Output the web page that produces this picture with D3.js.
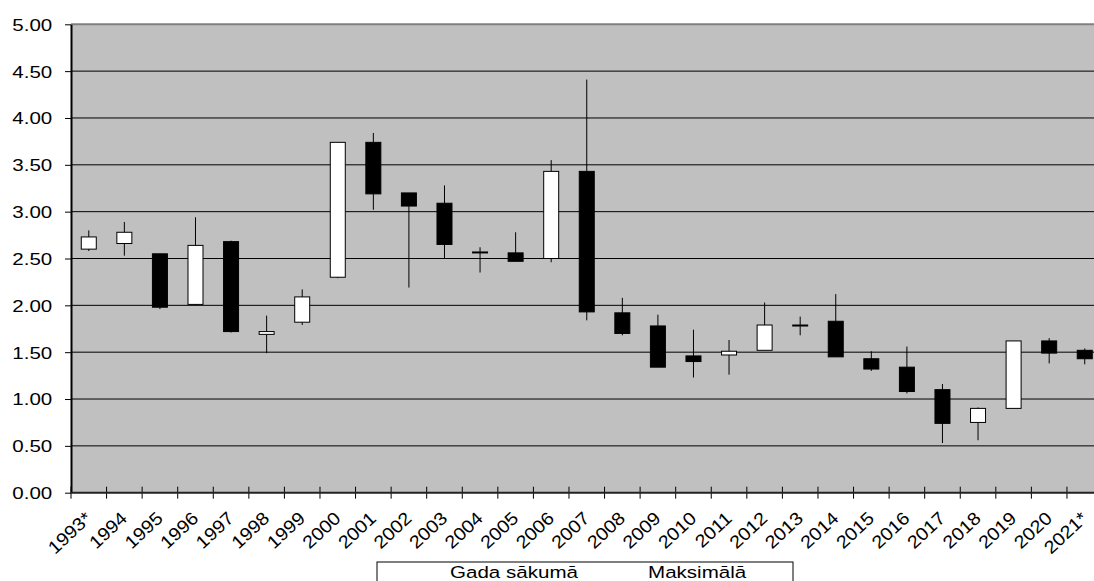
<!DOCTYPE html>
<html>
<head>
<meta charset="utf-8">
<script src="https://cdn.jsdelivr.net/npm/d3@7"></script>
<style>
  html, body { margin: 0; padding: 0; background: #fff; overflow: hidden; }
  svg { display: block; }
  text { font-family: "Liberation Sans", Arial, sans-serif; fill: #000; }
</style>
</head>
<body>
<svg id="chart" width="1094" height="581"></svg>
<script>
// Yearly range: start of year, maximum, minimum, end of year
const years = ["1993*","1994","1995","1996","1997","1998","1999","2000","2001","2002",
  "2003","2004","2005","2006","2007","2008","2009","2010","2011","2012",
  "2013","2014","2015","2016","2017","2018","2019","2020","2021*"];
const openVals  = [2.60,2.66,2.55,2.01,2.68,1.69,1.82,2.30,3.74,3.20,
  3.09,2.57,2.56,2.50,3.43,1.92,1.78,1.46,1.47,1.52,
  1.79,1.83,1.43,1.34,1.10,0.75,0.90,1.62,1.52];
const highVals  = [2.80,2.89,2.55,2.94,2.69,1.89,2.17,3.74,3.84,3.20,
  3.28,2.62,2.78,3.55,4.41,2.08,1.90,1.74,1.63,2.03,
  1.88,2.12,1.51,1.56,1.16,0.91,1.62,1.65,1.54];
const lowVals   = [2.58,2.53,1.96,2.00,1.71,1.49,1.79,2.29,3.02,2.19,
  2.50,2.35,2.47,2.46,1.84,1.68,1.34,1.23,1.26,1.52,
  1.68,1.45,1.30,1.06,0.53,0.56,0.90,1.38,1.37];
const closeVals = [2.73,2.78,1.98,2.64,1.72,1.72,2.09,3.74,3.19,3.06,
  2.65,2.57,2.47,3.43,1.93,1.70,1.34,1.40,1.51,1.79,
  1.79,1.45,1.32,1.08,0.74,0.90,1.62,1.49,1.43];
const yTicks = [0,0.5,1,1.5,2,2.5,3,3.5,4,4.5,5];
const legendLabels = ["Gada sākumā","Maksimālā"];

const rows = years.map((yr, i) => ({
  year: yr, open: openVals[i], high: highVals[i], low: lowVals[i], close: closeVals[i]
}));

const svg = d3.select("#chart");
const plotLeft = 71, plotTop = 24.3, plotBottom = 492.7, step = 35.57;
const plotRight = plotLeft + years.length * step;
const sx = 1.21; // horizontal stretch of lettering

const x = d3.scaleBand().domain(years).range([plotLeft, plotRight]).padding(0);
const xi = d3.scaleLinear().domain([0, years.length]).range([plotLeft, plotRight]);
const y = d3.scaleLinear().domain([0, 5]).range([plotBottom, plotTop]);

// plot background
svg.append("rect")
  .attr("x", plotLeft).attr("y", plotTop)
  .attr("width", plotRight - plotLeft).attr("height", plotBottom - plotTop)
  .attr("fill", "#c0c0c0");

// horizontal gridlines
svg.append("g").selectAll("line")
  .data(yTicks.filter(d => d > 0 && d < 5))
  .join("line")
  .attr("x1", plotLeft).attr("x2", plotRight)
  .attr("y1", d => y(d)).attr("y2", d => y(d))
  .attr("stroke", "#000").attr("stroke-width", 1);

// top border of the plot area
svg.append("line")
  .attr("x1", plotLeft).attr("x2", plotRight)
  .attr("y1", y(5)).attr("y2", y(5))
  .attr("stroke", "#808080").attr("stroke-width", 2);

// candles
const bodyW = 15;
const candles = svg.append("g").selectAll("g").data(rows).join("g")
  .attr("transform", d => `translate(${x(d.year) + x.bandwidth() / 2},0)`);

candles.append("line")
  .attr("x1", 0).attr("x2", 0)
  .attr("y1", d => y(d.high)).attr("y2", d => y(d.low))
  .attr("stroke", "#000").attr("stroke-width", 1);

candles.append("rect")
  .attr("x", -bodyW / 2).attr("width", bodyW)
  .attr("y", d => y(Math.max(d.open, d.close)))
  .attr("height", d => Math.max(1, Math.abs(y(d.open) - y(d.close))))
  .attr("fill", d => d.close >= d.open ? "#fff" : "#000")
  .attr("stroke", "#000").attr("stroke-width", 1);

// y axis
const yAxis = svg.append("g")
  .attr("transform", `translate(${plotLeft},0)`)
  .call(d3.axisLeft(y).tickValues(yTicks).tickFormat(d3.format(".2f")).tickSize(6).tickSizeOuter(0));
yAxis.select(".domain").attr("stroke", "#000").attr("stroke-width", 2);
yAxis.selectAll(".tick line").attr("stroke", "#000");
yAxis.selectAll(".tick text")
  .attr("x", 0).attr("dy", "0.35em")
  .attr("transform", `translate(-18.7,0) scale(${sx},1)`)
  .attr("text-anchor", "end")
  .style("font-size", "17px")
  .style("font-family", "'Liberation Sans', Arial, sans-serif");

// x axis: tick marks at category boundaries
svg.append("g").selectAll("line")
  .data(d3.range(0, years.length + 1))
  .join("line")
  .attr("x1", d => xi(d)).attr("x2", d => xi(d))
  .attr("y1", plotBottom - 6).attr("y2", plotBottom + 6)
  .attr("stroke", "#000").attr("stroke-width", 1);

const xAxis = svg.append("g")
  .attr("transform", `translate(0,${plotBottom})`)
  .call(d3.axisBottom(x).tickSize(0).tickSizeOuter(0));
xAxis.select(".domain").remove();
xAxis.selectAll(".tick text")
  .attr("x", 0).attr("y", 0).attr("dy", 0)
  .attr("text-anchor", "end")
  .attr("transform", "translate(4,27) rotate(-43) scale(1.1,1)")
  .style("font-size", "18px")
  .style("font-family", "'Liberation Sans', Arial, sans-serif");

svg.append("line")
  .attr("x1", plotLeft).attr("x2", plotRight)
  .attr("y1", plotBottom).attr("y2", plotBottom)
  .attr("stroke", "#222").attr("stroke-width", 2);

// legend
const legend = svg.append("g");
legend.append("rect")
  .attr("x", 377).attr("y", 562).attr("width", 416).attr("height", 40)
  .attr("fill", "#fff").attr("stroke", "#000").attr("stroke-width", 1);
const legendX = [450, 648];
legend.selectAll("text").data(legendLabels).join("text")
  .attr("transform", (d, i) => `translate(${legendX[i]},578) scale(${sx},1)`)
  .style("font-size", "17px")
  .text(d => d);
</script>
</body>
</html>
